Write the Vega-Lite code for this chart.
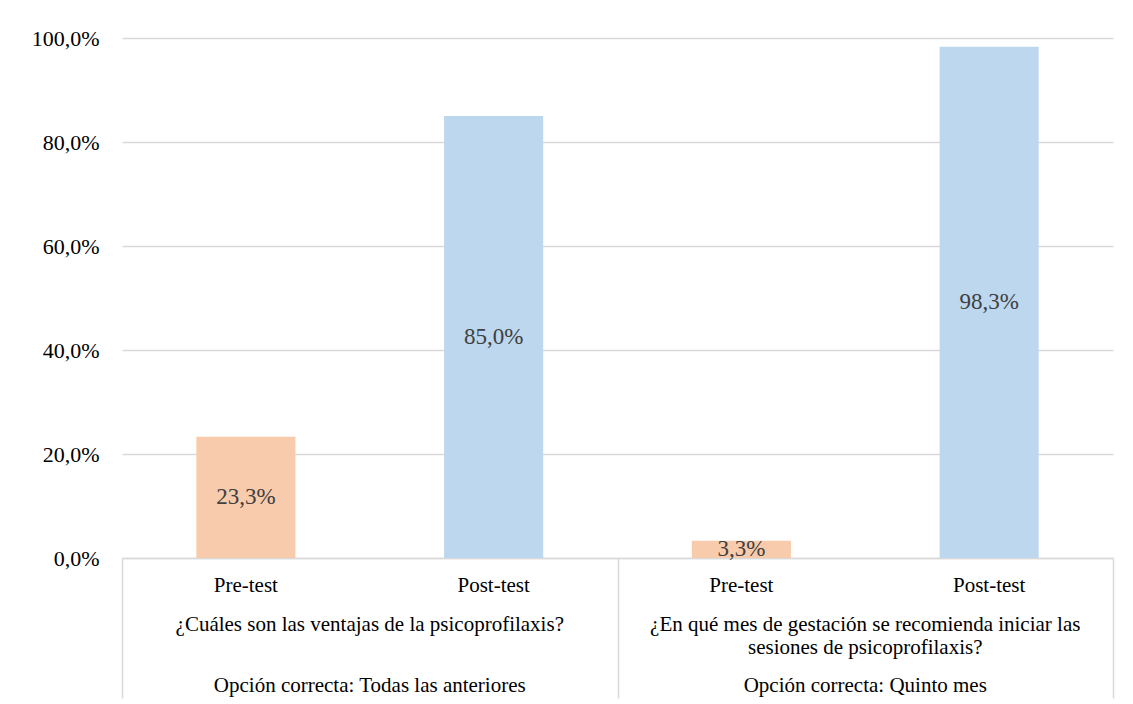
{
  "$schema": "https://vega.github.io/schema/vega-lite/v6.json",
  "autosize": {"type": "none"},
  "padding": {"left": 122, "top": 38, "right": 20, "bottom": 146},
  "width": 991,
  "height": 520,
  "background": "#ffffff",
  "datasets": {
    "bars": [
      {"id": "1 Pre-test", "test": "Pre-test", "value": 0.233},
      {"id": "1 Post-test", "test": "Post-test", "value": 0.85},
      {"id": "2 Pre-test", "test": "Pre-test", "value": 0.033},
      {"id": "2 Post-test", "test": "Post-test", "value": 0.983}
    ],
    "questions": [
      {"q": "¿Cuáles son las ventajas de la psicoprofilaxis?", "a": "Opción correcta: Todas las anteriores"},
      {"q": "¿En qué mes de gestación se recomienda iniciar las|sesiones de psicoprofilaxis?", "a": "Opción correcta: Quinto mes"}
    ]
  },
  "layer": [
    {
      "data": {"name": "bars"},
      "mark": {"type": "bar"},
      "encoding": {
        "x": {
          "field": "id", "type": "nominal", "sort": null,
          "scale": {"type": "band", "paddingInner": 0.6, "paddingOuter": 0.3},
          "axis": {
            "title": null, "orient": "bottom", "labelExpr": "slice(datum.label, 2)",
            "ticks": false, "domain": true, "domainColor": "#d9d9d9", "domainWidth": 1.5,
            "labelAngle": 0, "labelPadding": 16, "labelBaseline": "top"
          }
        },
        "y": {
          "field": "value", "type": "quantitative",
          "scale": {"domain": [0, 1]},
          "axis": {
            "title": null, "values": [0, 0.2, 0.4, 0.6, 0.8, 1], "format": ".1%",
            "grid": true, "gridColor": "#d9d9d9", "gridWidth": 1.5,
            "domain": false, "ticks": false, "labelPadding": 23, "labelFontSize": 22
          }
        },
        "color": {
          "field": "test", "type": "nominal",
          "scale": {"domain": ["Pre-test", "Post-test"], "range": ["#F8CBAD", "#BDD7EE"]},
          "legend": null
        }
      }
    },
    {
      "data": {"name": "bars"},
      "mark": {"type": "text", "font": "Liberation Serif, Times New Roman, serif", "fontSize": 23, "color": "#404040", "baseline": "middle"},
      "encoding": {
        "x": {"field": "id", "type": "nominal", "sort": null, "scale": {"type": "band", "paddingInner": 0.6, "paddingOuter": 0.3}, "axis": null},
        "y": {"field": "value", "type": "quantitative", "scale": {"domain": [0, 2]}, "axis": null},
        "text": {"field": "value", "type": "quantitative", "format": ".1%"}
      }
    },
    {
      "data": {"name": "questions"},
      "mark": {"type": "point", "opacity": 0},
      "encoding": {
        "x": {
          "field": "q", "type": "nominal", "sort": null, "scale": {"type": "band", "paddingInner": 0, "paddingOuter": 0},
          "axis": {
            "title": null, "orient": "bottom", "ticks": false, "domain": false,
            "labelExpr": "split(datum.label, '|')", "labelAngle": 0,
            "labelPadding": 55, "labelBaseline": "top", "labelLineHeight": 23.5
          }
        }
      }
    },
    {
      "data": {"name": "questions"},
      "mark": {"type": "point", "opacity": 0},
      "encoding": {
        "x": {
          "field": "a", "type": "nominal", "sort": null, "scale": {"type": "band", "paddingInner": 0, "paddingOuter": 0},
          "axis": {
            "title": null, "orient": "bottom", "ticks": false, "domain": false,
            "labelAngle": 0, "labelPadding": 116, "labelBaseline": "top"
          }
        }
      }
    },
    {
      "data": {"name": "questions"},
      "mark": {"type": "point", "opacity": 0},
      "encoding": {
        "x": {
          "field": "q", "type": "nominal", "sort": null, "scale": {"type": "band", "paddingInner": 0, "paddingOuter": 0},
          "axis": {
            "title": null, "orient": "bottom", "labels": false, "domain": false,
            "ticks": true, "tickBand": "extent", "tickSize": 140,
            "tickColor": "#d9d9d9", "tickWidth": 1.5
          }
        }
      }
    }
  ],
  "resolve": {
    "scale": {"x": "independent", "y": "independent"},
    "axis": {"x": "independent", "y": "independent"}
  },
  "config": {
    "locale": {"number": {"decimal": ",", "thousands": ".", "grouping": [3], "currency": ["", " €"]}},
    "view": {"stroke": null},
    "font": "Liberation Serif, Times New Roman, serif",
    "text": {"font": "Liberation Serif, Times New Roman, serif"},
    "axis": {
      "labelFont": "Liberation Serif, Times New Roman, serif", "labelFontSize": 21, "labelColor": "#000000",
      "labelLimit": 1000, "labelOverlap": false
    }
  }
}
